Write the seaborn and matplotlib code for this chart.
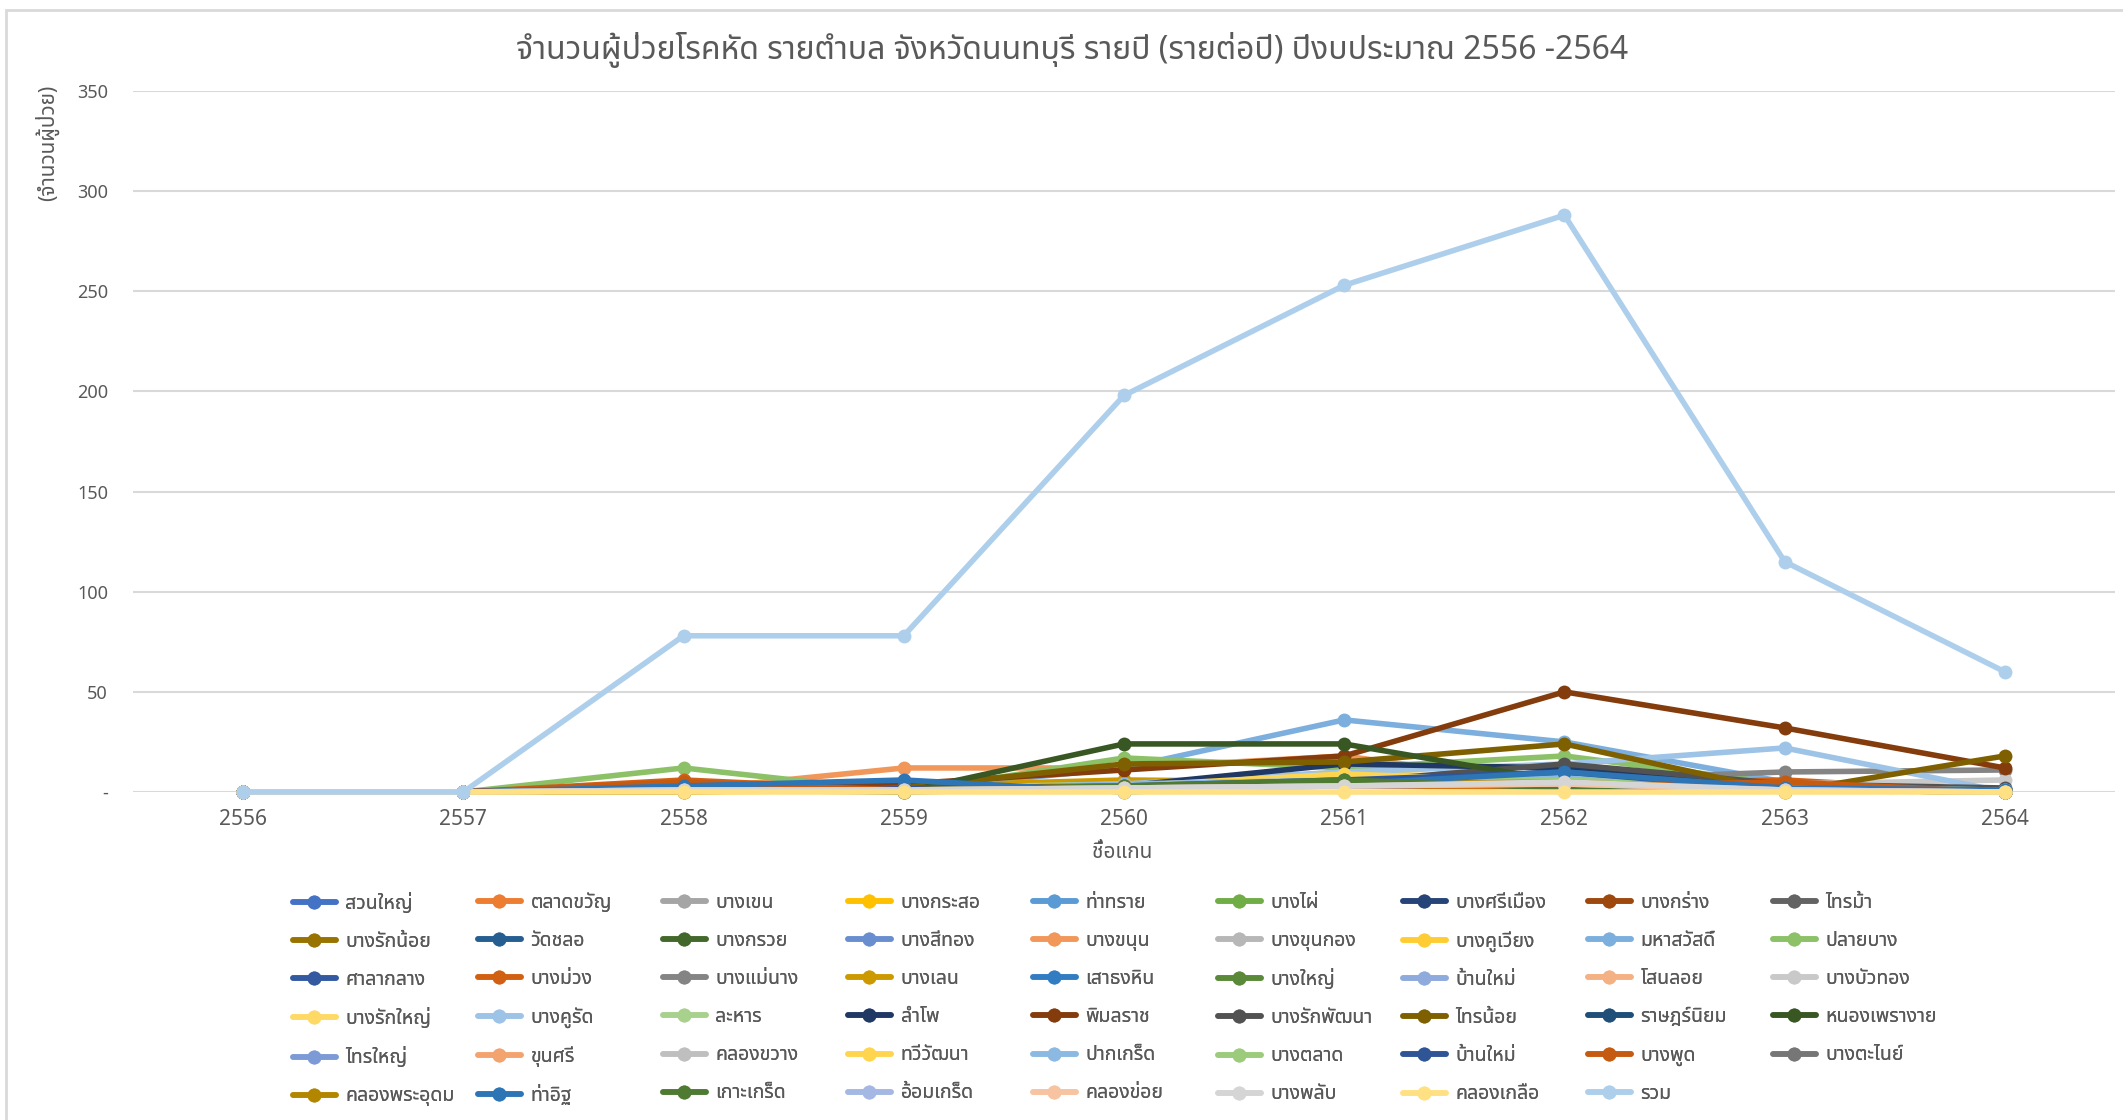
import numpy as np
import pandas as pd
import matplotlib
matplotlib.use("Agg")
import matplotlib.pyplot as plt
import seaborn as sns
from matplotlib import font_manager, ft2font
from matplotlib.patches import Rectangle

# ── data ──────────────────────────────────────────────────────────────────────
YEARS = [2556, 2557, 2558, 2559, 2560, 2561, 2562, 2563, 2564]
YTICKS = [0, 50, 100, 150, 200, 250, 300, 350]
YTICK_LABELS = ["-", "50", "100", "150", "200", "250", "300", "350"]

NAMES = [
    "สวนใหญ่", "ตลาดขวัญ", "บางเขน", "บางกระสอ", "ท่าทราย", "บางไผ่", "บางศรีเมือง", "บางกร่าง", "ไทรม้า",
    "บางรักน้อย", "วัดชลอ", "บางกรวย", "บางสีทอง", "บางขนุน", "บางขุนกอง", "บางคูเวียง", "มหาสวัสดิ์", "ปลายบาง",
    "ศาลากลาง", "บางม่วง", "บางแม่นาง", "บางเลน", "เสาธงหิน", "บางใหญ่", "บ้านใหม่", "โสนลอย", "บางบัวทอง",
    "บางรักใหญ่", "บางคูรัด", "ละหาร", "ลำโพ", "พิมลราช", "บางรักพัฒนา", "ไทรน้อย", "ราษฎร์นิยม", "หนองเพรางาย",
    "ไทรใหญ่", "ขุนศรี", "คลองขวาง", "ทวีวัฒนา", "ปากเกร็ด", "บางตลาด", "บ้านใหม่", "บางพูด", "บางตะไนย์",
    "คลองพระอุดม", "ท่าอิฐ", "เกาะเกร็ด", "อ้อมเกร็ด", "คลองข่อย", "บางพลับ", "คลองเกลือ", "รวม",
]

COLORS = [
    "#4472C4", "#ED7D31", "#A5A5A5", "#FFC000", "#5B9BD5", "#70AD47", "#264478", "#9E480E", "#636363",
    "#997300", "#255E91", "#43682B", "#698ED0", "#F1975A", "#B7B7B7", "#FFCD33", "#7CAFDD", "#8CC168",
    "#335AA1", "#D26012", "#848484", "#CC9A00", "#327DC2", "#5A8A39", "#8FAADC", "#F4B183", "#C9C9C9",
    "#FFD966", "#9DC3E6", "#A9D18E", "#203864", "#843C0C", "#525252", "#7F6000", "#1F4E79", "#385723",
    "#7C9BD6", "#F3A46E", "#BFBFBF", "#FFD54F", "#8CB9E1", "#9BCB7B", "#2F5597", "#C55A11", "#767676",
    "#B38600", "#2E75B6", "#4E7A32", "#A4B8E3", "#F7C3A0", "#D5D5D5", "#FFE083", "#AECFEB",
]

# cases per year, 2556..2564 (small ones estimated)
VALUES = [
    [0, 0, 2, 1, 4, 5, 6, 2, 1],      # สวนใหญ่
    [0, 0, 1, 2, 3, 4, 5, 1, 0],      # ตลาดขวัญ
    [0, 0, 1, 1, 3, 4, 6, 2, 1],      # บางเขน
    [0, 0, 0, 1, 2, 3, 2, 1, 0],      # บางกระสอ
    [0, 0, 2, 1, 4, 6, 7, 3, 1],      # ท่าทราย
    [0, 0, 1, 2, 3, 4, 5, 2, 1],      # บางไผ่
    [0, 0, 3, 1, 4, 6, 9, 2, 1],      # บางศรีเมือง
    [0, 0, 1, 1, 3, 5, 6, 2, 0],      # บางกร่าง
    [0, 0, 1, 0, 2, 3, 4, 1, 0],      # ไทรม้า
    [0, 0, 1, 2, 4, 4, 6, 2, 1],      # บางรักน้อย
    [0, 0, 2, 3, 3, 5, 8, 2, 1],      # วัดชลอ
    [0, 0, 1, 2, 3, 4, 5, 1, 0],      # บางกรวย
    [0, 0, 1, 1, 3, 4, 5, 2, 1],      # บางสีทอง
    [0, 0, 1, 12, 12, 18, 3, 2, 0],   # บางขนุน
    [0, 0, 1, 1, 2, 3, 4, 1, 0],      # บางขุนกอง
    [0, 0, 1, 2, 3, 10, 5, 1, 0],     # บางคูเวียง
    [0, 0, 2, 1, 12, 36, 25, 5, 0],   # มหาสวัสดิ์
    [0, 0, 12, 0, 17, 12, 18, 4, 0],  # ปลายบาง
    [0, 0, 2, 1, 3, 4, 6, 2, 1],      # ศาลากลาง
    [0, 0, 6, 1, 4, 3, 4, 6, 0],      # บางม่วง
    [0, 0, 1, 2, 3, 4, 6, 10, 11],    # บางแม่นาง
    [0, 0, 2, 3, 6, 5, 4, 2, 1],      # บางเลน
    [0, 0, 2, 1, 3, 4, 8, 2, 1],      # เสาธงหิน
    [0, 0, 1, 2, 3, 5, 6, 2, 1],      # บางใหญ่
    [0, 0, 1, 1, 3, 5, 6, 2, 1],      # บ้านใหม่
    [0, 0, 1, 1, 3, 6, 4, 1, 0],      # โสนลอย
    [0, 0, 1, 1, 2, 4, 7, 4, 6],      # บางบัวทอง
    [0, 0, 1, 1, 2, 3, 4, 1, 0],      # บางรักใหญ่
    [0, 0, 2, 1, 4, 10, 14, 22, 0],   # บางคูรัด
    [0, 0, 1, 2, 4, 5, 6, 2, 1],      # ละหาร
    [0, 0, 4, 2, 3, 14, 12, 2, 1],    # ลำโพ
    [0, 0, 2, 4, 11, 18, 50, 32, 12], # พิมลราช
    [0, 0, 1, 2, 3, 5, 14, 4, 2],     # บางรักพัฒนา
    [0, 0, 0, 2, 14, 15, 24, 0, 18],  # ไทรน้อย
    [0, 0, 2, 1, 3, 5, 10, 2, 1],     # ราษฎร์นิยม
    [0, 0, 2, 0, 24, 24, 5, 1, 0],    # หนองเพรางาย
    [0, 0, 1, 1, 2, 3, 4, 1, 0],      # ไทรใหญ่
    [0, 0, 1, 2, 3, 4, 5, 1, 0],      # ขุนศรี
    [0, 0, 1, 1, 3, 4, 5, 2, 1],      # คลองขวาง
    [0, 0, 1, 1, 3, 9, 5, 1, 0],      # ทวีวัฒนา
    [0, 0, 2, 1, 4, 6, 7, 2, 1],      # ปากเกร็ด
    [0, 0, 1, 2, 3, 5, 6, 2, 1],      # บางตลาด
    [0, 0, 3, 2, 3, 6, 10, 1, 0],     # บ้านใหม่
    [0, 0, 5, 1, 3, 3, 3, 5, 0],      # บางพูด
    [0, 0, 1, 1, 2, 3, 4, 1, 1],      # บางตะไนย์
    [0, 0, 1, 1, 3, 4, 5, 1, 0],      # คลองพระอุดม
    [0, 0, 3, 6, 0, 4, 10, 2, 1],     # ท่าอิฐ
    [0, 0, 1, 1, 3, 6, 2, 1, 0],      # เกาะเกร็ด
    [0, 0, 1, 1, 2, 3, 4, 1, 0],      # อ้อมเกร็ด
    [0, 0, 1, 1, 2, 3, 4, 1, 0],      # คลองข่อย
    [0, 0, 1, 1, 2, 3, 5, 1, 0],      # บางพลับ
    [0, 0, 0, 0, 0, 0, 0, 0, 0],      # คลองเกลือ
    [0, 0, 78, 78, 198, 253, 288, 115, 60],  # รวม
]

TITLE = "จำนวนผู้ป่วยโรคหัด รายตำบล จังหวัดนนทบุรี รายปี (รายต่อปี) ปีงบประมาณ 2556 -2564"
YLABEL = "(จำนวนผู้ป่วย)"
XLABEL = "ชื่อแกน"


# ── font with Thai glyphs ─────────────────────────────────────────────────────
def find_thai_font():
    prefer = ["Noto Sans Thai", "Noto Sans Thai UI", "Leelawadee UI", "Tahoma",
              "Sarabun", "Loma", "Garuda", "Noto Serif Thai"]
    found = {}
    for f in font_manager.fontManager.ttflist:
        try:
            cmap = ft2font.FT2Font(f.fname).get_charmap()
        except Exception:
            continue
        if 0x0E01 in cmap:
            found.setdefault(f.name, f.fname)
    for p in prefer:
        if p in found:
            return p
    return next(iter(found), "DejaVu Sans")


sns.set_theme(style="white")
THAI = find_thai_font()
FAMILY = [THAI, "DejaVu Sans"]
plt.rcParams["font.family"] = FAMILY

TXT = "#595959"
GRID = "#D9D9D9"

W, H = 2123, 1120
fig = plt.figure(figsize=(W / 100, H / 100), dpi=100)
ax = fig.add_axes([133 / W, 1 - 792 / H, (2115 - 133) / W, (792 - 91) / H])

handles = []
for name, vals, col in zip(NAMES, VALUES, COLORS):
    sns.lineplot(x=YEARS, y=vals, ax=ax, color=col, linewidth=4.0,
                 marker="o", markersize=10, markeredgecolor=col,
                 markeredgewidth=0, clip_on=False, legend=False)
    handles.append(ax.lines[-1])

ax.set_xlim(2555.5, 2564.5)
ax.set_ylim(0, 350)
ax.set_xticks(YEARS)
ax.set_xticklabels([str(y) for y in YEARS])
ax.set_yticks(YTICKS)
ax.set_yticklabels(YTICK_LABELS)
ax.yaxis.grid(True, color=GRID, linewidth=1.5, zorder=0)
ax.set_axisbelow(True)
for s in ax.spines.values():
    s.set_visible(False)
ax.tick_params(axis="y", length=0, pad=18, labelsize=13, labelcolor=TXT)
ax.tick_params(axis="x", length=0, pad=12, labelsize=15, labelcolor=TXT)
ax.set_xlabel("")
ax.set_ylabel("")

fig.text(1072 / W, 1 - 50 / H, TITLE, ha="center", va="center",
         fontsize=23, color=TXT)
fig.text(47 / W, 1 - 143 / H, YLABEL, ha="center", va="center",
         rotation=90, fontsize=15, color=TXT)
fig.text(1122 / W, 1 - 853 / H, XLABEL, ha="center", va="center",
         fontsize=15, color=TXT)

# legend: 9 equal-width columns, row-major like Excel
NCOL = 9
for c in range(NCOL):
    idx = list(range(c, len(NAMES), NCOL))
    leg = fig.legend([handles[i] for i in idx], [NAMES[i] for i in idx],
                     loc="upper left",
                     bbox_to_anchor=((293 + c * 185) / W, 1 - 893 / H),
                     frameon=False, fontsize=14, handlelength=2.2,
                     handletextpad=0.5, labelspacing=0.93,
                     borderpad=0, borderaxespad=0)
    for t in leg.get_texts():
        t.set_color(TXT)
    fig.add_artist(leg)

fig.add_artist(Rectangle((6 / W, -0.05), 1.1, 1 - 9.5 / H + 0.05,
                         transform=fig.transFigure, fill=False,
                         edgecolor=GRID, linewidth=2))

fig.savefig("out.png", dpi=100, facecolor="white")
